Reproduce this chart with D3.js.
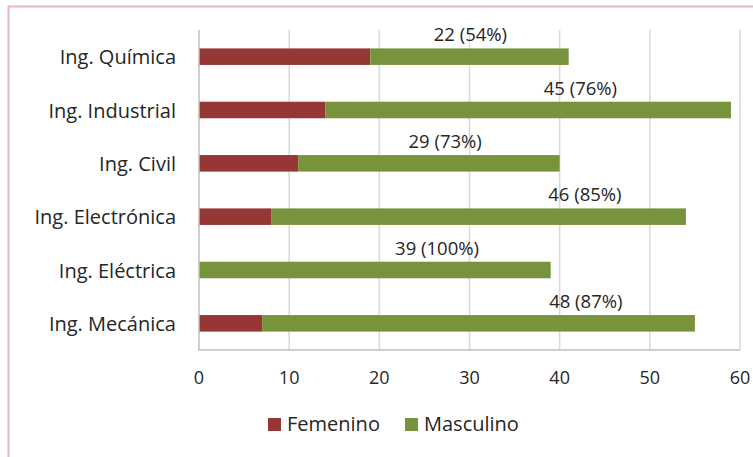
<!DOCTYPE html>
<html><head><meta charset="utf-8">
<script src="https://cdn.jsdelivr.net/npm/d3@7/dist/d3.min.js"></script>
<style>body{margin:0;background:#fff}svg{display:block}</style>
</head><body>
<script>
const categories = ["Ing. Química","Ing. Industrial","Ing. Civil","Ing. Electrónica","Ing. Eléctrica","Ing. Mecánica"];
const femenino = [19,14,11,8,0,7];
const masculino = [22,45,29,46,39,48];
const labels = ["22 (54%)","45 (76%)","29 (73%)","46 (85%)","39 (100%)","48 (87%)"];
const labelAt = [30.1,42.3,27.3,42.8,26.4,42.9];
const xTicks = [0,10,20,30,40,50,60];
const seriesNames = ["Femenino","Masculino"];
const colors = ["#953735","#77933C"];

const W=753,H=457;
const font = "'Open Sans', sans-serif";
const svg=d3.select("body").append("svg").attr("width",W).attr("height",H);
svg.append("rect").attr("x",8.5).attr("y",6.5).attr("width",W+20).attr("height",H+20)
  .attr("fill","none").attr("stroke","#e6b9b8").attr("stroke-width",2);

const x=d3.scaleLinear().domain([0,60]).range([199,740]);
const y=d3.scaleBand().domain(categories).range([30,350]).paddingInner(0.69).paddingOuter(0.345);

// gridlines
svg.append("g").selectAll("line").data(xTicks.slice(1)).join("line")
  .attr("x1",d=>x(d)).attr("x2",d=>x(d)).attr("y1",30).attr("y2",350)
  .attr("stroke","#d9d9d9").attr("stroke-width",1.5);

// bars
const stack=categories.map((c,i)=>({c,f:femenino[i],m:masculino[i]}));
svg.append("g").selectAll("rect").data(stack).join("rect")
  .attr("x",d=>x(0)).attr("y",d=>y(d.c)).attr("width",d=>x(d.f)-x(0)).attr("height",y.bandwidth())
  .attr("fill",colors[0]);
svg.append("g").selectAll("rect").data(stack).join("rect")
  .attr("x",d=>x(d.f)).attr("y",d=>y(d.c)).attr("width",d=>x(d.f+d.m)-x(d.f)).attr("height",y.bandwidth())
  .attr("fill",colors[1]);

// axes lines
svg.append("line").attr("x1",x(0)).attr("x2",x(0)).attr("y1",30).attr("y2",350).attr("stroke","#bfbfbf").attr("stroke-width",1.5);
svg.append("line").attr("x1",x(0)-1).attr("x2",x(60)).attr("y1",350).attr("y2",350).attr("stroke","#bfbfbf").attr("stroke-width",1.5);

// x tick labels
svg.append("g").selectAll("text").data(xTicks).join("text")
  .attr("x",d=>x(d)).attr("y",384).attr("text-anchor","middle")
  .attr("font-family",font).attr("font-size",18).attr("fill","#262626").text(d=>d);

// category labels
svg.append("g").selectAll("text").data(categories).join("text")
  .attr("x",176).attr("y",d=>y(d)+y.bandwidth()/2+7.5).attr("text-anchor","end")
  .attr("font-family",font).attr("font-size",20).attr("fill","#262626").text(d=>d);

// data labels
svg.append("g").selectAll("text").data(categories).join("text")
  .attr("x",(d,i)=>x(labelAt[i])).attr("y",d=>y(d)-7).attr("text-anchor","middle")
  .attr("font-family",font).attr("font-size",18.5).attr("fill","#262626").text((d,i)=>labels[i]);

// legend
const lg=svg.append("g");
const lx=[268,405];
seriesNames.forEach((s,i)=>{
  lg.append("rect").attr("x",lx[i]).attr("y",418).attr("width",13).attr("height",13).attr("fill",colors[i]);
  lg.append("text").attr("x",lx[i]+19).attr("y",431).attr("font-family",font).attr("font-size",20)
    .attr("fill","#262626").text(s);
});
</script>
</body></html>
